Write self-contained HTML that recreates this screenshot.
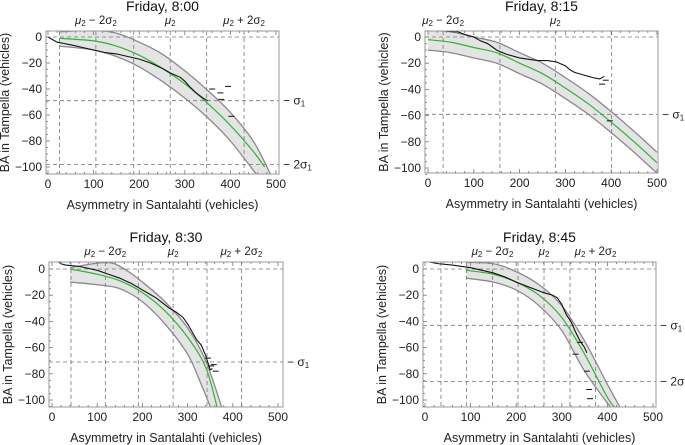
<!DOCTYPE html>
<html><head><meta charset="utf-8"><style>
html,body{margin:0;padding:0;background:#fff;}
svg{display:block;font-family:"Liberation Sans",sans-serif;}
</style></head><body>
<svg id="c" width="685" height="445"></svg>
<script>
// ---------- data ----------
const panelTitles = ["Friday, 8:00","Friday, 8:15","Friday, 8:30","Friday, 8:45"];
const xTicks = [0,100,200,300,400,500];
const yTicks = [0,-20,-40,-60,-80,-100];
const vLines1 = [25,105,188,268,348,430];
const vLines2 = [33,157,278,401];
const vLines3 = [42,118,191,268,343,419];
const vLines4 = [35,91,148,204,261,318,374];
const muLabels1 = [105,268,430];
const muLabels2 = [33,278];
const muLabels3 = [118,268,419];
const muLabels4 = [148,261,374];
const hLines1 = [0,-49,-98];
const hLines2 = [0,-59];
const hLines3 = [0,-71];
const hLines4 = [0,-43,-86];
const cX1=[25,100,150,200,250,300,350,400,450,475], cY1=[-1,-3,-7,-14,-24,-36,-51,-68,-88,-100];
const cX2=[0,50,100,150,200,250,300,350,400,450,500], cY2=[-2,-4,-8,-12,-20,-28,-39,-51,-65,-80,-96];
const cX3=[40,100,150,200,250,300,340,365], cY3=[0,-4,-9,-18,-32,-52,-75,-105];
const cX4=[90,150,200,250,300,350,400,420], cY4=[-1,-4,-10,-20,-37,-65,-98,-107];
const uX1=[25,100,150,200,250,300,350,400,450,490], uY1=[4,5,3,-4,-13,-26,-41,-58,-80,-107];
const lX1=[25,100,150,200,250,300,350,400,460], lY1=[-7,-10,-15,-23,-34,-47,-62,-80,-107];
const uX2=[0,50,100,150,200,250,300,350,400,450,500], uY2=[5,4,0,-4,-12,-20,-31,-43,-57,-72,-88];
const lX2=[0,50,100,150,200,250,300,350,400,450,500], lY2=[-10,-12,-16,-20,-28,-36,-47,-59,-73,-88,-104];
const uX3=[40,120,160,200,250,300,340,375], uY3=[1,5,0,-10,-25,-45,-70,-105];
const lX3=[40,100,150,200,250,300,330,350], lY3=[-10,-12,-15,-25,-42,-65,-88,-105];
const uX4=[90,150,200,250,300,350,400,430], uY4=[5,4,-2,-12,-28,-55,-88,-107];
const lX4=[90,150,200,250,300,350,410], lY4=[-7,-10,-16,-28,-47,-78,-107];
const oX1=[0,10,20,35,50,75,100,125,150,175,200,225,250,270,290,300,310,325,340,350], oY1=[0,-2,-4,-5,-6,-8,-10,-12,-13,-15,-17,-20,-24,-28,-31,-34,-38,-43,-47,-49];
const oX2=[30,50,65,80,100,115,130,150,170,200,220,240,260,280,300,310,320,340,360,375,385], oY2=[5,4,4,2,0,-3,-5,-10,-13,-16,-17,-18,-18,-19,-22,-25,-27,-29,-31,-32,-30];
const oX3=[12,20,30,60,100,125,150,175,200,215,230,245,260,275,290,300,310,320,330,340,350,355], oY3=[6,4,3,2,-1,-4,-7,-11,-16,-19,-22,-26,-30,-33,-37,-42,-48,-54,-58,-66,-77,-76];
const oX4=[0,15,30,60,100,125,150,175,200,215,230,245,260,280,290,300,310,320,330,340,350,355], oY4=[6,5,4,3,1,-1,-3,-6,-10,-12,-14,-16,-18,-20,-22,-27,-35,-40,-48,-55,-60,-64];
const dX1=[360,378,395,380,402], dY1=[-40,-43,-38,-48,-61];
const dX2=[380,388,397], dY2=[-36,-33,-64];
const dX3=[345,352,358,362], dY3=[-68,-74,-73,-78];
const dX4=[340,330,355,360,362], dY4=[-56,-65,-78,-92,-99];
const sigmaLabels = [["− σ","1"],["− 2σ","1"]];

const panels = [
 {box:[46,31,279,174], x0:48,x5:276, y0:37,y100:167, vl:vLines1, mu:muLabels1, muN:3, hl:hLines1, c:[cX1,cY1], u:[uX1,uY1], l:[lX1,lY1], o:[oX1,oY1], d:[dX1,dY1]},
 {box:[425,31,658,173], x0:428,x5:657, y0:37,y100:168, vl:vLines2, mu:muLabels2, muN:2, hl:hLines2, c:[cX2,cY2], u:[uX2,uY2], l:[lX2,lY2], o:[oX2,oY2], d:[dX2,dY2]},
 {box:[49,262,283,407], x0:52,x5:278, y0:269,y100:400, vl:vLines3, mu:muLabels3, muN:3, hl:hLines3, c:[cX3,cY3], u:[uX3,uY3], l:[lX3,lY3], o:[oX3,oY3], d:[dX3,dY3]},
 {box:[423,262,656,407], x0:425,x5:653, y0:269,y100:400, vl:vLines4, mu:muLabels4, muN:3, hl:hLines4, c:[cX4,cY4], u:[uX4,uY4], l:[lX4,lY4], o:[oX4,oY4], d:[dX4,dY4]}
];
const NS="http://www.w3.org/2000/svg";
const svg=document.getElementById('c');
function mk(tag,attrs,parent){const e=document.createElementNS(NS,tag);for(const k in attrs)e.setAttribute(k,attrs[k]);(parent||svg).appendChild(e);return e;}
function segs(pts){let d='';for(let i=0;i<pts.length-1;i++){const p0=pts[Math.max(0,i-1)],p1=pts[i],p2=pts[i+1],p3=pts[Math.min(pts.length-1,i+2)];d+=` C${p1[0]+(p2[0]-p0[0])/6},${p1[1]+(p2[1]-p0[1])/6} ${p2[0]-(p3[0]-p1[0])/6},${p2[1]-(p3[1]-p1[1])/6} ${p2[0]},${p2[1]}`;}return d;}
function smooth(pts){return `M${pts[0][0]},${pts[0][1]}`+segs(pts);}

panels.forEach((P,pi)=>{
 const [L,T,R,B]=P.box;
 const sx=v=>P.x0+(P.x5-P.x0)*v/500;
 const sy=v=>P.y0+(P.y100-P.y0)*(-v)/100;
 const g=mk('g',{});
 
 
 const cid='clip'+pi;
 const cp=mk('clipPath',{id:cid},g);mk('rect',{x:L,y:T,width:R-L,height:B-T},cp);
 const up=P.u[0].map((x,i)=>[sx(x),sy(P.u[1][i])]);
 const lo=P.l[0].map((x,i)=>[sx(x),sy(P.l[1][i])]);
 const lr=lo.slice().reverse();
 const band=mk('path',{d:smooth(up)+` L${lr[0][0]},${lr[0][1]}`+segs(lr)+' Z',fill:'#e4e4e4',stroke:'none','clip-path':`url(#${cid})`},g);
 
 
 P.vl.forEach(v=>{const e=mk('line',{x1:sx(v),x2:sx(v),y1:T,y2:B,stroke:'#777','stroke-width':0.8,'stroke-dasharray':'4,3'},g);
  });
 P.hl.forEach(v=>{const e=mk('line',{x1:L,x2:R,y1:sy(v),y2:sy(v),stroke:'#777','stroke-width':0.8,'stroke-dasharray':'4,3'},g);
  });
 [up,lo].forEach(pts=>{const e=mk('path',{d:smooth(pts),fill:'none',stroke:'#8a8a8a','stroke-width':1.3,'clip-path':`url(#${cid})`},g);
  });
 const cen=mk('path',{d:smooth(P.c[0].map((x,i)=>[sx(x),sy(P.c[1][i])])),fill:'none',stroke:'#2fb52f','stroke-width':1.2,'clip-path':`url(#${cid})`},g);
 
 const od=P.o[0].map((x,i)=>(i?'L':'M')+sx(x)+','+sy(P.o[1][i])).join(' ');
 const obs=mk('path',{d:od,fill:'none',stroke:'#111','stroke-width':1.1,'clip-path':`url(#${cid})`},g);
 
 P.d[0].forEach((x,i)=>{const e=mk('line',{x1:sx(x)-3,x2:sx(x)+3,y1:sy(P.d[1][i]),y2:sy(P.d[1][i]),stroke:'#111','stroke-width':1},g);
  });
 const fr=mk('rect',{x:L,y:T,width:R-L,height:B-T,fill:'none',stroke:'#999','stroke-width':1},g);
 
 for(let v=0;v<=500;v+=20){const maj=v%100==0,len=maj?4:2,X=sx(v);
  mk('line',{x1:X,x2:X,y1:B,y2:B-len,stroke:'#777','stroke-width':0.8},g);mk('line',{x1:X,x2:X,y1:T,y2:T+len,stroke:'#777','stroke-width':0.8},g);}
 for(let v=0;v>=-105;v-=5){const maj=v%20==0,len=maj?4:2,Y=sy(v);
  mk('line',{x1:L,x2:L+len,y1:Y,y2:Y,stroke:'#777','stroke-width':0.8},g);}
 xTicks.forEach(v=>{const t=mk('text',{x:sx(v),y:B+14,'text-anchor':'middle','font-size':12,fill:'#222'},g);t.textContent=v;
  });
 yTicks.forEach(v=>{const t=mk('text',{x:L-4,y:sy(v)+4,'text-anchor':'end','font-size':12,fill:'#222'},g);t.textContent=v==0?'0':'−'+(-v);
  });
 const muTxt=P.muN==3?[['μ','2',' − 2σ','2'],['μ','2','',''],['μ','2',' + 2σ','2']]:[['μ','2',' − 2σ','2'],['μ','2','','']];
 P.mu.forEach((v,i)=>{const m=muTxt[i];const t=mk('text',{x:sx(v),y:T-7,'text-anchor':'middle','font-size':11.5,fill:'#222'},g);
  t.innerHTML=`<tspan font-style="italic">${m[0]}</tspan><tspan font-size="8" dy="2">${m[1]}</tspan><tspan dy="-2">${m[2]}</tspan>`+(m[3]?`<tspan font-size="8" dy="2">${m[3]}</tspan>`:'');
  });
 P.hl.slice(1).forEach((v,i)=>{const s=sigmaLabels[i];const t=mk('text',{x:R+4,y:sy(v)+4,'font-size':12,fill:'#222'},g);
  t.innerHTML=`${s[0]}<tspan font-size="8" dy="2">${s[1]}</tspan>`;
  });
 const tt=mk('text',{x:(L+R)/2,y:T-20,'text-anchor':'middle','font-size':14,fill:'#111'},g);tt.textContent=panelTitles[pi];
 
 const xt=mk('text',{x:(L+R)/2,y:B+35,'text-anchor':'middle','font-size':12.5,fill:'#222'},g);xt.textContent='Asymmetry in Santalahti (vehicles)';
 
 const yx=L-37,yy=(T+B)/2;
 const yt=mk('text',{x:yx,y:yy,'text-anchor':'middle','font-size':12.5,fill:'#222',transform:`rotate(-90 ${yx} ${yy})`},g);yt.textContent='BA in Tampella (vehicles)';
 
});
</script>
</body></html>
